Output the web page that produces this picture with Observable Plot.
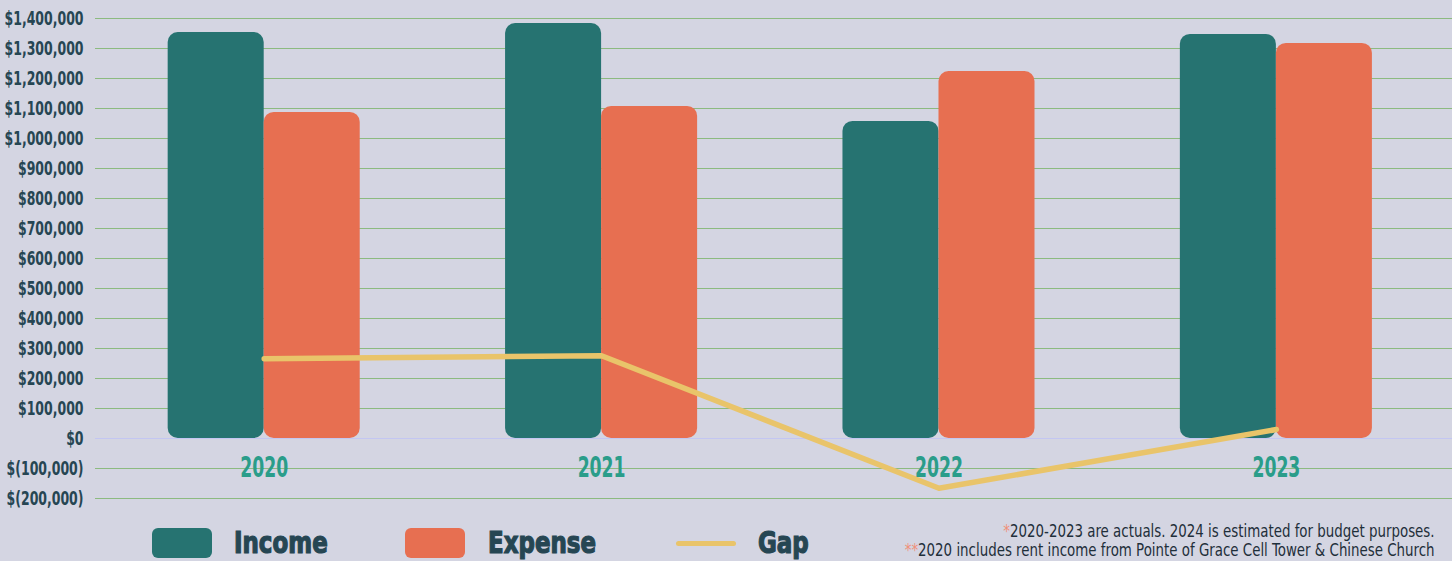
<!DOCTYPE html>
<html>
<head>
<meta charset="utf-8">
<script src="https://cdn.jsdelivr.net/npm/d3@7"></script>
<script src="https://cdn.jsdelivr.net/npm/@observablehq/plot@0.6"></script>
<style>
  html, body { margin: 0; padding: 0; background: #d4d5e2; }
  body { width: 1452px; height: 561px; overflow: hidden; position: relative;
         font-family: "DejaVu Sans Condensed", "DejaVu Sans", sans-serif; }
  #chart svg { display: block; }
  #legend { position: absolute; left: 0; top: 515px; width: 1452px; height: 46px; }
  .sw { position: absolute; top: 13px; width: 60px; height: 30px; border-radius: 6px; }
  .ln { position: absolute; top: 26px; width: 60px; height: 5px; border-radius: 3px; }
  .lt { position: absolute; top: 11px; font-size: 30px; font-weight: 700; color: #264653; line-height: 34px;
        -webkit-text-stroke: 1.2px #264653;
        transform: scaleX(0.85); transform-origin: left center; white-space: nowrap; }
  #notes { position: absolute; right: 17px; top: 7px; text-align: right; font-size: 17px; line-height: 19px; color: #1f2f3a;
           transform: scaleX(0.875); transform-origin: right center; white-space: nowrap; }
  #notes .a { color: #f0907a; }
</style>
</head>
<body>
<div id="chart"></div>
<div id="legend"></div>
<script>
const years = [2020, 2021, 2022, 2023];
const income = [1353000, 1383000, 1057000, 1347000];
const expense = [1087000, 1107000, 1223000, 1317000];
const gap = [266000, 276000, -166000, 30000];
const yTicks = [-200000, -100000, 0, 100000, 200000, 300000, 400000, 500000, 600000, 700000,
                800000, 900000, 1000000, 1100000, 1200000, 1300000, 1400000];
const seriesNames = ["Income", "Expense", "Gap"];
const seriesColors = ["#267371", "#e76f51", "#e9c46a"];
const notes = ["2020-2023 are actuals. 2024 is estimated for budget purposes.",
               "2020 includes rent income from Pointe of Grace Cell Tower & Chinese Church"];
const noteMarks = ["*", "**"];

const rows = years.map((year, i) => ({year, income: income[i], expense: expense[i], gap: gap[i]}));
const half = 0.2846;
const fmt = d => d < 0 ? `$(${d3.format(",")(-d)})` : d3.format("$,")(d);
const font = `"DejaVu Sans Condensed", "DejaVu Sans", sans-serif`;

const chart = Plot.plot({
  width: 1452,
  height: 515,
  marginLeft: 95,
  marginRight: 0,
  marginTop: 18,
  marginBottom: 17,
  style: {background: "transparent", fontFamily: font},
  x: {type: "linear", domain: [2019.5, 2023.522]},
  y: {domain: [-200000, 1400000]},
  marks: [
    Plot.gridY(yTicks.filter(d => d !== 0), {stroke: "#8cba80", strokeOpacity: 1, strokeWidth: 1}),
    Plot.ruleY([0], {stroke: "#c3c6f2", strokeWidth: 1}),
    Plot.rect(rows, {x1: d => d.year - half, x2: d => d.year, y1: 0, y2: "income", fill: seriesColors[0], rx: 10}),
    Plot.rect(rows, {x1: d => d.year, x2: d => d.year + half, y1: 0, y2: "expense", fill: seriesColors[1], rx: 10}),
    Plot.line(rows, {x: "year", y: "gap", stroke: seriesColors[2], strokeWidth: 5.5}),
    Plot.axisY({ticks: yTicks, tickFormat: fmt, tickSize: 0, tickPadding: 12, label: null,
                fontSize: 19, fontWeight: 700, fill: "#264653", stroke: "#264653", strokeWidth: 0.7}),
    Plot.axisX({ticks: years, tickFormat: d => String(d), tickSize: 0, tickPadding: 0, label: null,
                dy: -42, fontSize: 29, fontWeight: 700, fill: "#2a9d8a", stroke: "#2a9d8a", strokeWidth: 1})
  ]
});
document.getElementById("chart").append(chart);

// condense axis labels (narrow display face)
function condense(selector, k) {
  chart.querySelectorAll(selector).forEach(t => {
    const w = t.getComputedTextLength();
    t.setAttribute("textLength", w * k);
    t.setAttribute("lengthAdjust", "spacingAndGlyphs");
  });
}
condense('g[aria-label="y-axis tick label"] text', 0.73);
condense('g[aria-label="x-axis tick label"] text', 0.66);

// legend
const legend = document.getElementById("legend");
const swX = [152, 405, 676];
const txX = [234, 488, 758];
seriesNames.forEach((name, i) => {
  const s = document.createElement("div");
  s.className = i < 2 ? "sw" : "ln";
  s.style.left = swX[i] + "px";
  s.style.background = seriesColors[i];
  legend.append(s);
  const t = document.createElement("div");
  t.className = "lt";
  t.style.left = txX[i] + "px";
  t.textContent = name;
  legend.append(t);
});
const n = document.createElement("div");
n.id = "notes";
notes.forEach((txt, i) => {
  const line = document.createElement("div");
  const a = document.createElement("span");
  a.className = "a";
  a.textContent = noteMarks[i];
  line.append(a, document.createTextNode(txt));
  n.append(line);
});
legend.append(n);
</script>
</body>
</html>
